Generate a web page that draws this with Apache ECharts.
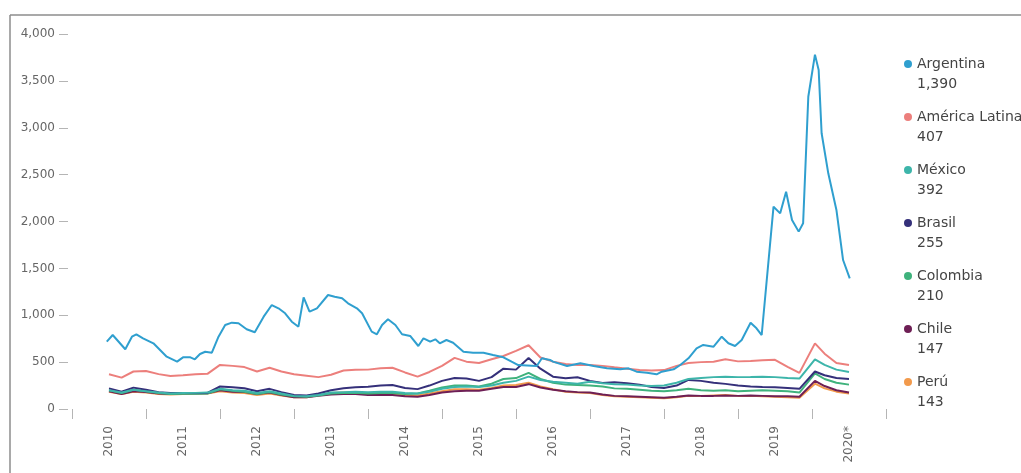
<!DOCTYPE html>
<html>
<head>
<meta charset="utf-8">
<script src="https://cdn.jsdelivr.net/npm/echarts@6/dist/echarts.min.js"></script>
<style>
html,body{margin:0;padding:0;background:#fff;}
#chart{width:1021px;height:473px;}
</style>
</head>
<body>
<div id="chart"></div>
<script>
// ---- Data ----
const categorias = ['2010','2011','2012','2013','2014','2015','2016','2017','2018','2019','2020*'];

const nombres = ['Argentina','América Latina','México','Brasil','Colombia','Chile','Perú'];
const ultimos = ['1,390','407','392','255','210','147','143'];
const colores = ['#2f9fcf','#ec7f7c','#3db5aa','#35307a','#3fb27c','#6e1f55','#f29a4c'];

// Argentina (fecha en año decimal)
const fechaArg = [2010.47,2010.55,2010.72,2010.81,2010.87,2010.96,2011.10,2011.28,2011.42,2011.50,2011.60,2011.66,2011.73,2011.80,2011.89,2011.98,
2012.07,2012.16,2012.25,2012.36,2012.47,2012.59,2012.70,2012.79,2012.88,2012.97,2013.06,2013.13,2013.21,2013.31,2013.46,2013.55,2013.65,2013.73,2013.85,2013.92,
2014.05,2014.12,2014.19,2014.27,2014.37,2014.46,2014.57,2014.68,2014.75,2014.84,2014.91,2014.97,2015.06,2015.15,2015.29,2015.42,2015.56,2015.69,2015.83,2015.94,
2016.03,2016.15,2016.28,2016.35,2016.46,2016.50,2016.69,2016.87,2017.05,2017.23,2017.41,2017.52,2017.63,2017.77,2017.90,2017.97,
2018.13,2018.22,2018.33,2018.44,2018.53,2018.67,2018.78,2018.87,2018.96,2019.05,2019.17,2019.25,2019.32,2019.48,2019.57,2019.65,2019.73,2019.82,2019.88,2019.95,
2020.04,2020.09,2020.13,2020.22,2020.33,2020.42,2020.51];
const argentina = [718,789,637,771,797,754,701,558,505,551,551,530,587,611,601,771,
896,921,914,850,818,985,1109,1074,1021,931,878,1191,1038,1074,1216,1198,1181,1127,1074,1021,
825,797,896,957,896,797,779,672,754,718,743,701,736,707,611,601,601,576,551,505,
469,465,459,541,523,505,459,487,459,434,423,434,398,387,370,398,
423,469,541,647,683,665,771,701,672,736,920,861,789,2158,2087,2318,2016,1892,1981,3331,
3780,3616,2941,2514,2123,1589,1394];

// Resto de series (fecha en año decimal, cada dos meses)
const fechas = [2010.5,2010.67,2010.83,2011,2011.17,2011.33,2011.5,2011.67,2011.83,2012,2012.17,2012.33,2012.5,2012.67,2012.83,
2013,2013.17,2013.33,2013.5,2013.67,2013.83,2014,2014.17,2014.33,2014.5,2014.67,2014.83,2015,2015.17,2015.33,2015.5,2015.67,2015.83,
2016,2016.17,2016.33,2016.5,2016.67,2016.83,2017,2017.17,2017.33,2017.5,2017.67,2017.83,2018,2018.17,2018.33,2018.5,2018.67,2018.83,
2019,2019.17,2019.33,2019.5,2019.67,2019.83,2020.04,2020.17,2020.33,2020.5];

const americaLatina = [370,335,400,405,372,352,360,370,375,470,460,447,400,440,400,
370,355,340,365,410,418,420,435,440,390,345,395,460,545,505,490,530,565,
620,680,550,505,480,470,470,460,445,430,416,410,415,460,490,500,505,530,
508,512,520,525,450,385,700,590,490,470];
const mexico = [200,175,205,190,175,165,170,172,175,215,200,195,170,190,165,
140,135,150,175,180,185,180,185,185,170,165,185,215,235,240,235,250,280,
300,345,310,290,280,270,290,275,265,260,250,245,250,280,320,330,340,345,
340,342,345,340,330,325,530,470,420,395];
const brasil = [220,185,228,205,180,172,172,172,172,240,232,222,190,215,180,
150,145,165,200,222,232,238,250,255,225,212,250,300,330,325,300,340,430,
420,545,430,345,328,338,300,278,285,275,260,235,225,250,310,300,280,268,
250,240,235,232,225,215,400,360,330,320];
const colombia = [200,170,205,190,170,160,162,162,165,210,195,185,160,180,155,
135,130,145,165,170,172,165,170,170,160,165,195,230,250,250,240,270,320,
330,385,320,280,260,255,250,240,220,215,205,195,190,200,215,200,195,200,
190,195,200,195,190,175,380,320,280,260];
const chile = [190,160,190,180,165,160,165,165,168,200,185,180,160,175,150,
125,125,140,155,160,160,150,150,150,135,130,150,175,190,195,195,215,235,
235,265,230,205,190,180,175,155,140,135,130,125,120,130,145,140,140,145,
140,145,140,135,135,130,300,245,200,175];
const peru = [185,160,185,175,160,155,160,165,165,190,175,170,150,165,145,
125,125,150,170,175,175,165,160,160,145,145,165,190,210,210,205,225,250,
255,280,240,210,185,175,170,150,135,130,125,120,115,125,140,140,145,150,
140,140,135,130,125,120,270,220,185,165];

// ---- Chart ----
const pares = (xs, ys) => xs.map((x, i) => [x, ys[i]]);
const serieDatos = [
  pares(fechaArg, argentina),
  pares(fechas, americaLatina),
  pares(fechas, mexico),
  pares(fechas, brasil),
  pares(fechas, colombia),
  pares(fechas, chile),
  pares(fechas, peru)
];

const FONT = 'DejaVu Sans';
const rich = {
  n: {fontFamily: FONT, fontSize: 14, color: '#444', lineHeight: 20, padding: [0,0,0,5]},
  v: {fontFamily: FONT, fontSize: 14, color: '#444', lineHeight: 20, padding: [0,0,0,13]}
};
colores.forEach((c, i) => {
  rich['d' + i] = {width: 8, height: 8, borderRadius: 4, backgroundColor: c};
});

const chart = echarts.init(document.getElementById('chart'), null, {renderer: 'canvas'});
chart.setOption({
  animation: false,
  backgroundColor: '#fff',
  grid: {left: 72, right: 135, top: 34, bottom: 64, containLabel: false},
  xAxis: [
    {
      type: 'category',
      data: categorias,
      boundaryGap: true,
      offset: 14,
      axisLine: {show: false},
      axisTick: {show: true, length: 10, lineStyle: {color: '#b5b5b5'}, interval: 0},
      axisLabel: {rotate: 90, margin: 3, fontFamily: FONT, fontSize: 12, color: '#666', interval: 0}
    },
    {
      type: 'value',
      min: 2010,
      max: 2021,
      show: false
    }
  ],
  yAxis: {
    type: 'value',
    min: 0,
    max: 4000,
    interval: 500,
    offset: 4,
    splitLine: {show: false},
    axisLine: {show: false},
    axisTick: {show: true, length: 9, lineStyle: {color: '#b5b5b5'}},
    axisLabel: {
      margin: 13, fontFamily: FONT, fontSize: 12, color: '#666',
      formatter: v => v.toLocaleString('en-US')
    }
  },
  legend: {
    orient: 'vertical',
    left: 894,
    top: 52,
    icon: 'none',
    itemWidth: 0,
    itemHeight: 8,
    itemGap: 19,
    selectedMode: false,
    data: nombres,
    formatter: name => {
      const i = nombres.indexOf(name);
      return '{d' + i + '|}{n|' + name + '}\n{v|' + ultimos[i] + '}';
    },
    textStyle: {rich: rich}
  },
  graphic: [
    {type: 'line', shape: {x1: 10, y1: 15, x2: 1021, y2: 15}, style: {stroke: '#8c8c8c', lineWidth: 1.5}, silent: true},
    {type: 'line', shape: {x1: 10, y1: 15, x2: 10, y2: 473}, style: {stroke: '#8c8c8c', lineWidth: 1.5}, silent: true}
  ],
  series: nombres.map((n, i) => ({
    name: n,
    type: 'line',
    xAxisIndex: 1,
    data: serieDatos[i],
    showSymbol: false,
    symbol: 'none',
    lineStyle: {width: 2, color: colores[i]},
    itemStyle: {color: colores[i]},
    z: 10 - i
  }))
});
</script>
</body>
</html>
